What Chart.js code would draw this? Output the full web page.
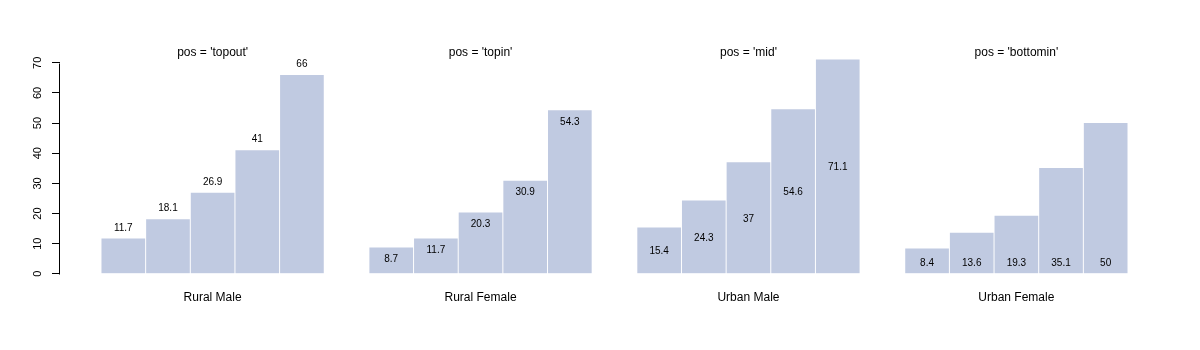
<!DOCTYPE html>
<html>
<head>
<meta charset="utf-8">
<script src="https://cdn.jsdelivr.net/npm/chart.js@4"></script>
<style>
  html, body { margin: 0; padding: 0; background: #fff; }
  #wrap { width: 1200px; height: 350px; }
</style>
</head>
<body>
<div id="wrap"><canvas id="c" width="1200" height="350"></canvas></div>
<script>
// Death rates per 1000, five age bands per population group
const groups = ['Rural Male', 'Rural Female', 'Urban Male', 'Urban Female'];
const ruralMale = [11.7, 18.1, 26.9, 41.0, 66.0];
const ruralFemale = [8.7, 11.7, 20.3, 30.9, 54.3];
const urbanMale = [15.4, 24.3, 37.0, 54.6, 71.1];
const urbanFemale = [8.4, 13.6, 19.3, 35.1, 50.0];
const labelPositions = ['topout', 'topin', 'mid', 'bottomin'];
const yTicks = [0, 10, 20, 30, 40, 50, 60, 70];

const FONT = '"Liberation Sans", Arial, Helvetica, sans-serif';
const BAR_COLOR = '#C0CAE1';

// Bars sit at integer slots; each group of five is followed by one empty slot
const series = [ruralMale, ruralFemale, urbanMale, urbanFemale];
const points = [];
const barGroup = [];
series.forEach((vals, g) => {
  vals.forEach((v, i) => {
    points.push({ x: g * 6 + i, y: v });
    barGroup.push(g);
  });
});
const slotPositions = points.map(p => p.x);

const annotate = {
  id: 'annotate',
  afterDatasetsDraw(chart) {
    const ctx = chart.ctx;
    const meta = chart.getDatasetMeta(0);
    const ys = chart.scales.y;
    ctx.save();
    ctx.fillStyle = '#000';

    // value labels, placed according to each group's position mode
    ctx.font = '10px ' + FONT;
    ctx.textAlign = 'center';
    ctx.textBaseline = 'middle';
    meta.data.forEach((bar, i) => {
      const v = points[i].y;
      const mode = labelPositions[barGroup[i]];
      let ty;
      if (mode === 'topout') ty = bar.y - 10.5;
      else if (mode === 'topin') ty = bar.y + 12;
      else if (mode === 'mid') ty = (bar.y + bar.base) / 2 + 1;
      else ty = bar.base - 10;
      ctx.fillText(String(v), bar.x, ty);
    });

    // panel titles and group names
    ctx.font = '12px ' + FONT;
    groups.forEach((name, g) => {
      const first = meta.data[g * 5];
      const last = meta.data[g * 5 + 4];
      const cx = (first.x + last.x) / 2;
      ctx.fillText("pos = '" + labelPositions[g] + "'", cx, 53);
      ctx.fillText(name, cx, 298);
    });

    // y axis line from first to last tick
    const ax = Math.round(chart.chartArea.left) - 0.5;
    ctx.strokeStyle = '#000';
    ctx.lineWidth = 1;
    ctx.beginPath();
    ctx.moveTo(ax, Math.round(ys.getPixelForValue(yTicks[0])) + 0.5);
    ctx.lineTo(ax, Math.round(ys.getPixelForValue(yTicks[yTicks.length - 1])) + 0.5);
    ctx.stroke();

    // rotated y tick labels
    ctx.font = '11px ' + FONT;
    yTicks.forEach(t => {
      ctx.save();
      ctx.translate(37.5, ys.getPixelForValue(t));
      ctx.rotate(-Math.PI / 2);
      ctx.fillText(String(t), 0, 0);
      ctx.restore();
    });
    ctx.restore();
  }
};

new Chart(document.getElementById('c'), {
  type: 'bar',
  data: {
    datasets: [{
      data: points,
      backgroundColor: BAR_COLOR,
      borderWidth: 0,
      barPercentage: 0.978,
      categoryPercentage: 1
    }]
  },
  options: {
    responsive: false,
    animation: false,
    events: [],
    layout: { padding: { left: 0, right: 72, top: 56.8, bottom: 76.2 } },
    plugins: { legend: { display: false }, tooltip: { enabled: false } },
    scales: {
      x: {
        type: 'linear',
        display: false,
        offset: false,
        min: -1.418,
        max: 22.5,
        afterBuildTicks(s) { s.ticks = slotPositions.map(v => ({ value: v })); }
      },
      y: {
        min: 0,
        max: 72,
        border: { display: false },
        grid: { drawOnChartArea: false, color: '#000', tickLength: 8, lineWidth: 1 },
        ticks: { display: false },
        afterBuildTicks(s) { s.ticks = yTicks.map(v => ({ value: v })); },
        afterFit(s) { s.width = 60; }
      }
    }
  },
  plugins: [annotate]
});
</script>
</body>
</html>
